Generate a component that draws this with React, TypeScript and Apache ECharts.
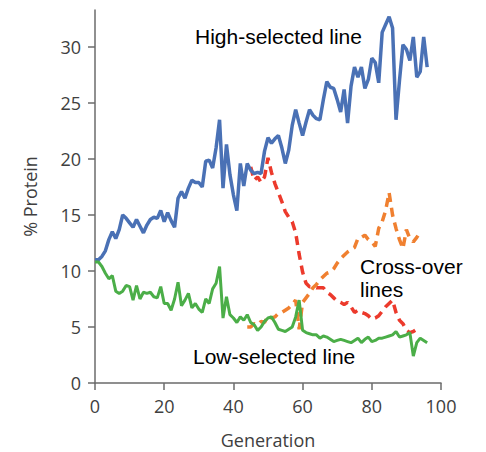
import React, { useEffect, useRef } from "react";
import * as echarts from "echarts";

const generations = Array.from({ length: 97 }, (_, i) => i);

const highSelected = [
  11.0, 11.0, 11.3, 11.8, 12.8, 13.5, 12.9, 13.7, 15.0, 14.7,
  14.3, 13.9, 14.6, 14.0, 13.4, 14.1, 14.6, 14.8, 14.7, 15.4,
  14.4, 15.2, 14.5, 13.9, 16.5, 17.1, 16.5, 17.4, 18.1, 17.9,
  17.9, 17.5, 19.8, 19.9, 19.2, 21.0, 23.5, 17.4, 21.3, 18.6,
  16.8, 15.4, 19.6, 17.6, 19.6, 19.0, 18.7, 18.8, 18.7, 20.7,
  21.9, 21.4, 21.8, 22.1, 21.0, 19.6, 20.8, 23.0, 24.4, 23.2,
  22.1, 23.3, 24.4, 23.9, 23.6, 23.5, 25.3, 26.9, 26.4, 26.3,
  25.3, 24.2, 26.2, 23.2, 26.5, 28.2, 27.3, 28.2, 26.3, 27.1,
  29.0, 28.6, 26.8, 31.3, 32.0, 32.7, 31.7, 23.5, 27.0, 30.2,
  29.8, 28.8, 30.9, 27.3, 27.8, 30.9, 28.2,
];

const lowSelected = [
  10.8, 10.8, 10.4, 9.8, 9.3, 9.6, 8.2, 8.0, 8.2, 8.7,
  8.6, 7.4, 8.7, 7.5, 8.1, 8.0, 8.1, 7.7, 7.6, 8.6,
  7.1, 7.1, 6.5, 7.5, 9.0, 6.9, 7.4, 8.0, 6.7, 7.1,
  6.6, 6.3, 7.5, 7.1, 8.4, 8.9, 10.4, 5.8, 7.7, 6.1,
  5.8, 5.4, 5.9, 5.6, 6.1, 5.4, 5.2, 4.7, 5.0, 5.5,
  5.8, 5.9, 5.4, 4.8, 4.7, 4.6, 4.8, 5.0, 5.9, 7.4,
  4.7, 4.5, 4.4, 4.3, 4.3, 4.0, 4.2, 4.1, 3.9, 3.7,
  3.8, 3.9, 3.8, 3.7, 3.6, 3.8, 4.0, 3.6, 3.9, 4.1,
  3.7, 3.8, 4.0, 4.0, 4.1, 4.2, 4.3, 4.6, 4.1, 4.2,
  4.3, 4.5, 2.4, 3.6, 4.0, 3.8, 3.6,
];

const crossHighStart = 45;
const crossHigh = [
  19.3, 18.1, 18.4, 17.9, 18.4, 20.1, 18.8, 17.8, 17.0, 16.2,
  15.3, 14.8, 14.4, 13.4, 11.5, 9.9, 8.9, 8.6, 8.6, 8.5,
  8.5, 8.5, 8.1, 7.9, 7.6, 7.3, 7.2, 7.0, 7.2, 6.8,
  6.3, 6.5, 6.3, 6.2, 6.0, 5.7, 5.8, 6.0, 6.4, 6.8,
  7.1, 7.4, 6.3, 5.6, 5.3, 4.7, 4.5, 4.6, 4.8, 4.9,
];

const crossLowStart = 44;
const crossLow = [
  5.0, 5.0, 5.3, 5.2, 5.5, 5.4, 6.0, 5.8, 5.9, 6.2,
  6.3, 6.5, 6.7, 7.0, 7.4, 4.8, 7.2, 7.6, 8.0, 8.5,
  8.8, 9.2, 9.5, 9.8, 9.9, 10.2, 10.7, 11.1, 11.4, 11.7,
  11.9, 12.1, 12.9, 13.0, 13.2, 12.8, 12.6, 12.2, 13.8, 14.4,
  15.4, 17.0, 15.0, 13.8, 12.8, 12.0, 13.7, 12.9, 12.6, 13.0,
  13.5,
];

const yTicks = [0, 5, 10, 15, 20, 25, 30];
const xTicks = [0, 20, 40, 60, 80, 100];

const pair = (start: number, arr: number[]) => arr.map((v, i) => [start + i, v]);

export default function App() {
  const ref = useRef<HTMLDivElement>(null);
  useEffect(() => {
    if (!ref.current) return;
    const chart = echarts.init(ref.current, undefined, { renderer: "svg" });
    const axisColor = "#6b6b6b";
    const labelColor = "#404040";
    const labelFont = "Open Sans";
    const annFont = "Liberation Sans";
    chart.setOption({
      animation: false,
      backgroundColor: "#ffffff",
      grid: { left: 95, right: 45, top: 10, bottom: 69, containLabel: false, outerBoundsMode: "none" },
      xAxis: {
        type: "value",
        min: 0,
        max: 100,
        interval: 20,
        name: "Generation",
        nameLocation: "middle",
        nameGap: 48,
        nameTextStyle: { color: labelColor, fontSize: 18, fontFamily: labelFont },
        axisLine: { show: true, lineStyle: { color: axisColor, width: 1.5 } },
        axisTick: { show: true, length: 7, lineStyle: { color: axisColor, width: 1.5 } },
        axisLabel: { color: labelColor, fontSize: 18, fontFamily: labelFont, margin: 14, customValues: xTicks },
        splitLine: { show: false },
      },
      yAxis: {
        type: "value",
        min: 0,
        max: 33.3,
        name: "% Protein",
        nameLocation: "middle",
        nameGap: 56,
        nameTextStyle: { color: labelColor, fontSize: 18, fontFamily: labelFont },
        axisLine: { show: true, lineStyle: { color: axisColor, width: 1.5 } },
        axisTick: { show: true, length: 7, lineStyle: { color: axisColor, width: 1.5 }, customValues: yTicks },
        axisLabel: { color: labelColor, fontSize: 18, fontFamily: labelFont, margin: 14, customValues: yTicks },
        splitLine: { show: false },
      },
      series: [
        {
          type: "line",
          data: generations.map((g) => [g, highSelected[g]]),
          showSymbol: false,
          lineStyle: { color: "#4a71b5", width: 3.5 },
          z: 3,
        },
        {
          type: "line",
          data: generations.map((g) => [g, lowSelected[g]]),
          showSymbol: false,
          lineStyle: { color: "#4bae48", width: 3 },
          z: 3,
        },
        {
          type: "line",
          data: pair(crossHighStart, crossHigh),
          showSymbol: false,
          lineStyle: { color: "#ec3a2c", width: 3.5, type: [9, 6] },
          z: 2,
        },
        {
          type: "line",
          data: pair(crossLowStart, crossLow),
          showSymbol: false,
          lineStyle: { color: "#f08030", width: 3.5, type: [9, 6] },
          z: 2,
        },
      ],
      graphic: [
        { type: "text", left: 195, top: 26, style: { text: "High-selected line", fill: "#000", fontSize: 21, fontFamily: annFont } },
        { type: "text", left: 360, top: 256, style: { text: "Cross-over", fill: "#000", fontSize: 21, fontFamily: annFont } },
        { type: "text", left: 360, top: 279, style: { text: "lines", fill: "#000", fontSize: 21, fontFamily: annFont } },
        { type: "text", left: 193, top: 346, style: { text: "Low-selected line", fill: "#000", fontSize: 21, fontFamily: annFont } },
      ],
    });
    return () => chart.dispose();
  }, []);
  return <div ref={ref} style={{ width: 486, height: 452, position: "absolute", left: 0, top: 0 }} />;
}
